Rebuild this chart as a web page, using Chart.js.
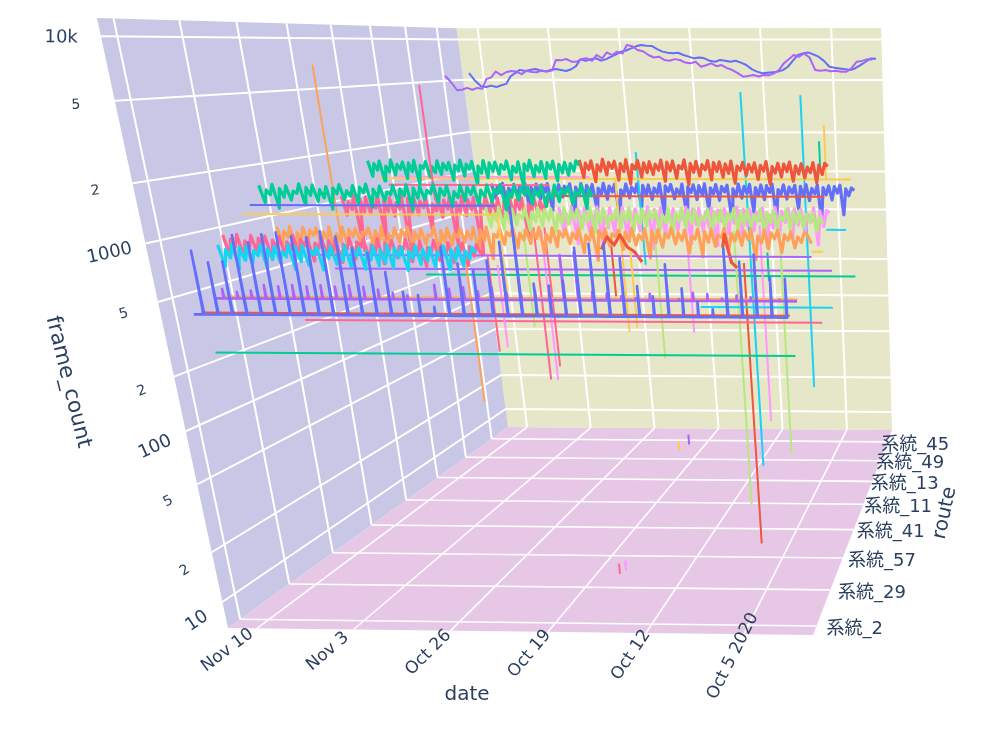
<!DOCTYPE html>
<html lang="en">
<head>
<meta charset="UTF-8">
<title>frame_count by route and date</title>
<script src="https://cdn.jsdelivr.net/npm/chart.js"></script>
<style>
body {margin: 0; background: #fff}
canvas {display: block}
</style>
</head>
<body>
<canvas id="myChart" width="1000" height="730"></canvas>
<script>
// axis ticks. days are counted from Sep 30, routes from the first tick
const dateTickDays = [40, 33, 26, 19, 12, 5];
const dateTickLabels = ['Nov 10', 'Nov 3', 'Oct 26', 'Oct 19', 'Oct 12', 'Oct 5 2020'];
const routeTickLabels = ['系統_2', '系統_29', '系統_57', '系統_41', '系統_11', '系統_13', '系統_49', '系統_45'];
const countTicks = [10, 20, 50, 100, 200, 500, 1000, 2000, 5000, 10000];
const countTickLabels = ['10', '2', '5', '100', '2', '5', '1000', '2', '5', '10k'];

// top pair, two values a day
const purpleTop = [5445, 4900, 4266, 4300, 4436, 4300, 4436, 4380, 5150, 5300, 5850, 5500, 5780, 5900, 5850, 5600, 5915, 5800, 5780, 5950, 5850, 5950, 7100, 7050, 7210, 6900, 6900, 7200, 7295, 7000, 7710, 7300, 8050, 7700, 8150, 7900, 9100, 8900, 8375, 8200, 7710, 7400, 7500, 7100, 7015, 7200, 7100, 6800, 6715, 6900, 6350, 6500, 6715, 6400, 6530, 6200, 6010, 5700, 5380, 5450, 5535, 5400, 5535, 5500, 5690, 6000, 6715, 7200, 7710, 7500, 7925, 7400, 6010, 5950, 6010, 5900, 5945, 5850, 5850, 6200, 6900, 7000, 7180, 7150];
const blueTop = [5690, 5000, 4560, 4500, 4610, 4500, 4640, 4750, 5380, 5700, 6010, 5900, 6010, 6100, 5945, 5850, 6010, 6100, 6010, 5900, 6080, 6400, 7180, 7000, 7180, 7300, 7015, 7200, 7500, 7800, 8150, 8300, 8610, 8900, 9100, 9000, 8950, 8500, 8150, 8000, 7925, 8000, 7710, 7500, 7295, 7400, 7295, 7000, 6900, 7100, 7015, 6900, 7015, 6800, 6530, 6100, 5850, 5700, 5750, 5800, 5850, 6000, 6350, 7000, 7710, 7900, 8050, 7800, 7500, 7000, 6350, 6250, 6180, 6100, 6010, 6200, 6530, 6900, 7295, 7250];

// dense bands, four values a day
const greenUpper = [1650, 1300, 1580, 1430, 1640, 1210, 1520, 1390, 1670, 1330, 1560, 1450, 1620, 1260, 1600, 1400, 1660, 1150, 1540, 1470, 1630, 1290, 1510, 1380, 1650, 1340, 1590, 1440, 1610, 1230, 1550, 1420, 1670, 1310, 1570, 1460, 1640, 1180, 1530, 1370, 1660, 1280, 1600, 1410, 1620, 1350, 1560, 1450, 1650, 1240, 1520, 1390, 1630, 1130, 1580, 1430, 1670, 1300, 1540, 1400, 1640, 1270, 1610, 1460, 1650, 1220, 1570, 1380, 1620, 1330, 1590, 1420, 1660, 1550];
const redUpper = [1680, 1290, 1600, 1450, 1660, 1210, 1560, 1420, 1700, 1340, 1620, 1480, 1650, 1240, 1590, 1410, 1690, 1170, 1570, 1460, 1670, 1300, 1610, 1390, 1640, 1350, 1580, 1440, 1680, 1220, 1630, 1430, 1660, 1280, 1550, 1470, 1690, 1160, 1600, 1400, 1650, 1320, 1570, 1450, 1670, 1250, 1620, 1420, 1640, 1300, 1590, 1380, 1660, 1190, 1540, 1440, 1630, 1340, 1580, 1410, 1620, 1260, 1560, 1430, 1650, 1170, 1530, 1390, 1610, 1310, 1590, 1420, 1640, 1230, 1550, 1370, 1600, 1290, 1520, 1400, 1630, 1200, 1570, 1360, 1610, 1540];
const greenLower = [1530, 1220, 1440, 1350, 1550, 1130, 1470, 1310, 1520, 1260, 1420, 1380, 1560, 1190, 1490, 1340, 1540, 1240, 1450, 1300, 1510, 1120, 1480, 1370, 1550, 1270, 1430, 1330, 1530, 1210, 1500, 1390, 1560, 1150, 1460, 1320, 1520, 1250, 1410, 1360, 1540, 1200, 1470, 1340, 1550, 1110, 1490, 1300, 1510, 1280, 1440, 1380, 1560, 1230, 1480, 1350, 1530, 1160, 1420, 1310, 1540, 1260, 1500, 1370, 1520, 1190, 1450, 1330, 1550, 1240, 1470, 1390, 1560, 1120, 1430, 1320, 1530, 1270, 1490, 1360, 1510, 1210, 1460, 1340, 1540, 1170, 1410, 1300, 1550, 1250, 1480, 1380, 1520, 1200, 1440, 1350, 1560, 1140, 1470, 1330];
const pinkFront = [905, 690, 860, 780, 912, 670, 840, 760, 900, 720, 870, 800, 895, 660, 850, 770, 890, 700, 830, 750, 905, 680, 860, 790, 880, 650, 820, 770, 890, 690, 845, 740, 870, 640, 810, 760, 875, 670, 835, 780, 860, 660, 800, 730, 870, 630, 825, 750, 850, 680, 790, 760, 865, 650, 815, 720, 845, 610, 780, 740, 855, 660, 800, 710, 830, 640, 770, 730, 825, 620, 790, 700, 810, 720, 760];
const pinkBack = [1060, 800, 980, 870, 1075, 470, 1020, 840, 1050, 820, 960, 890, 1080, 560, 1000, 850, 1040, 790, 970, 880, 1070, 440, 1030, 830, 1060, 810, 990, 900, 1045, 620, 950, 860, 1080, 780, 1010, 880, 1055, 500, 975, 840, 1065, 800, 1020, 870, 1050, 450, 960, 890, 1075, 820, 1000, 850, 1040, 700, 985, 830, 1060, 790, 1015, 880, 1045, 580, 955, 860, 1070, 810, 995, 840, 1050, 970];
const cyanBand = [815, 620, 770, 690, 820, 600, 790, 670, 805, 640, 760, 710, 815, 610, 780, 680, 800, 650, 750, 700, 820, 600, 795, 660, 810, 630, 765, 720, 795, 594, 775, 690, 805, 640, 745, 670, 815, 620, 785, 710, 790, 600, 755, 680, 810, 630, 770, 650, 820, 610, 790, 700, 800, 594, 760, 690, 815, 640, 780, 670, 795, 620, 750, 710, 810, 600, 775, 680, 805, 630, 765, 690, 800, 745];
const orangeBand = [855, 680, 810, 740, 860, 600, 790, 720, 850, 690, 820, 760, 845, 660, 800, 730, 855, 560, 780, 700, 860, 670, 830, 750, 840, 700, 795, 770, 850, 640, 815, 710, 860, 580, 785, 740, 845, 690, 825, 755, 855, 650, 800, 720, 835, 680, 775, 760, 860, 570, 820, 700, 850, 670, 790, 745, 840, 700, 810, 730, 855, 620, 830, 715, 860, 560, 780, 750, 845, 680, 805, 765, 850, 650, 795, 725, 835, 690, 820, 740, 860, 590, 785, 705, 855, 660, 815, 755, 840, 690, 800, 735, 850, 610, 775, 720, 860, 550, 825, 745, 845, 670, 790, 760, 830, 640, 810, 715, 855, 680, 780, 730, 850, 570, 820, 700, 840, 660, 795, 750, 860, 690, 805, 725, 835, 610, 770, 740, 850, 580, 815, 710, 845, 670, 785, 755, 855, 640, 800, 720, 830, 680, 825, 735, 850, 560, 775, 705, 840, 650, 810, 745, 835, 620, 790, 730, 820, 660, 765, 710, 810, 780, 700];
const lightGreenBand = [1075, 830, 1000, 900, 1080, 800, 1030, 880, 1060, 850, 980, 930, 1070, 790, 1020, 890, 1080, 840, 1050, 910, 1065, 780, 990, 870, 1075, 860, 1035, 925, 1055, 810, 1005, 895, 1080, 770, 1045, 880, 1070, 850, 975, 915, 1060, 820, 1025, 900, 1075, 790, 995, 870, 1065, 840, 1040, 930, 1050, 800, 985, 885, 1070, 760, 1015, 905, 1080, 830, 1050, 875, 1060, 850, 970, 920, 1070, 780, 1030, 890, 1055, 820, 1005, 910, 1075, 790, 1045, 865, 1060, 840, 990, 900, 1065, 770, 1020, 885, 1050, 810, 980, 915, 1070, 800, 1035, 875, 1045, 830, 1000, 895, 1020, 790, 960, 870];
const magentaBand = [1025, 700, 950, 820, 1033, 610, 1000, 790, 1010, 730, 930, 860, 1030, 590, 985, 770, 1015, 720, 960, 840, 1025, 650, 1010, 800, 1000, 740, 940, 850, 1033, 570, 995, 780, 1020, 700, 970, 830, 1005, 750, 920, 865, 1030, 620, 1005, 810, 1015, 730, 955, 780, 1025, 600, 990, 845, 1010, 710, 935, 825, 1033, 640, 1000, 795, 1000, 745, 965, 855, 1020, 580, 925, 770, 1030, 700, 980, 835, 1015, 660, 1010, 805, 1005, 720, 945, 840, 1025, 610, 985, 790, 990, 960];
const blueBand = [1095, 870, 1050, 950, 1100, 700, 1020, 930, 1085, 880, 1060, 970, 1104, 640, 1035, 920, 1090, 860, 1075, 960, 1100, 720, 1010, 940, 1080, 890, 1055, 980, 1095, 660, 1040, 910, 1100, 870, 1070, 950, 1085, 700, 1025, 935, 1104, 860, 1060, 965, 1090, 620, 1000, 925, 1095, 880, 1045, 955, 1100, 760, 1075, 915, 1080, 860, 1030, 945, 1104, 680, 1065, 975, 1090, 870, 1015, 930, 1095, 650, 1050, 960, 1085, 860, 1070, 920, 1100, 720, 1035, 940, 1090, 850, 1055, 970, 1080, 620, 1020, 910, 1100, 880, 1060, 950, 1095, 700, 1040, 925, 1085, 860, 1075, 965, 1100, 640, 1010, 935, 1090, 870, 1050, 955, 1080, 740, 1065, 915, 1095, 850, 1030, 945, 1090, 613, 1045, 930, 1075, 860, 1060, 960, 1085, 680, 1025, 920, 1040, 1000];
const redPatchA = [640, 760, 680, 780, 660, 620, 540];
const redPatchB = [660, 790, 640, 540, 520, 500];

// the two daily spike series: one peak a day on top of a flat base
const blueSpikeBase = 382;
const blueSpikes = [841, 731, 740, 1018, 934, 1030, 1055, 1005, 993, 1070, 1005, 879, 826, 655, 513, 494, 427, 889, 731, 671, 758, 950, 1435, 573, 559, 594, 889, 934, 934, 787, 559, 494, 731, 545, 465, 422, 889, 758, 826, 631, 617];
const purpleSpikeBase = 431;
const purpleSpikes = [487, 470, 478, 513, 505, 513, 505, 513, 505, 513, 505, 487, 470, 452, 431, 520, 495, 505, 480, 505, 470, 462, 487, 478, 760, 790, 480, 470, 455, 445, 470, 431, 440, 478, 470, 445, 462, 452, 431, 440];

// nearly constant routes
const flatColors = ['#FFA15A', '#EF553B', '#FF6692', '#00CC96', '#19D3F3', '#AB63FA', '#AB63FA', '#00CC96', '#636EFA', '#FECB52', '#FECB52', '#FF6692', '#EF553B', '#FF97FF', '#19D3F3', '#FECB52'];
const flatRoutes = [0.66, 0.36, 1.35, 0.32, 2.14, 1.91, 2.38, 4.12, 1.59, 1.43, 4.52, 4.52, 4.12, 4.52, 5.31, 2.38];
const flatFirstDay = [41.5, 41.9, 38.5, 41.3, 10.4, 39.2, 39.3, 37.6, 42, 42, 41.8, 41, 26.3, 40.5, 3.8, 1.9];
const flatLastDay = [1.1, 1.3, 0.2, 1, 0.2, 1.4, 0.4, 0.2, 23.9, 23.5, 0.65, 26.9, 2.6, 23.3, 2, 1];
const flatCounts = [440, 384, 276, 233, 282, 596, 451, 293, 1219, 1109, 1239, 1119, 1000, 1270, 500, 589];

// single days where a route jumps far away from its level
const jumpColors = ['#FFA15A', '#FFA15A', '#FF6692', '#FF6692', '#FF97FF', '#FF6692', '#FF6692', '#FF97FF', '#19D3F3', '#19D3F3', '#19D3F3', '#EF553B', '#EF553B', '#B6E880', '#B6E880', '#B6E880', '#B6E880', '#FF97FF', '#FF97FF', '#FECB52', '#FECB52', '#FECB52', '#FECB52', '#00CC96', '#00CC96', '#00CC96', '#FF6692', '#FF97FF', '#FECB52', '#AB63FA'];
const jumpRoutes = [2.03, 2.03, 3.56, 1, 1.12, 3.33, 3.33, 3.09, 5.31, 5.31, 4.52, 2.38, 2.38, 2.3, 2.3, 2.3, 2.3, 2.73, 2.73, 1.43, 4.52, 1.43, 4.52, 4.36, 4.12, 1.83, 1.39, 1.39, 6.37, 6.73];
const jumpDays = [37.2, 27.9, 34.2, 23.3, 23, 25.7, 24.8, 24.5, 10.9, 5.6, 19.1, 7.2, 17.4, 13.8, 7.7, 4.2, 23.9, 12.1, 6.3, 23.4, 21.1, 14, 2.8, 3.1, 7.7, 23.5, 17.1, 16.6, 21, 20.6];
const jumpFrom = [7100, 760, 5250, 720, 611, 700, 700, 700, 4450, 4250, 1875, 500, 640, 800, 800, 800, 800, 800, 800, 1109, 1239, 700, 2813, 2239, 424, 1420, 8.2, 8.5, 8.5, 8.5];
const jumpTo = [760, 72, 1000, 200, 205, 68, 84, 73, 8, 34, 321, 7.2, 309, 128, 14, 31, 201, 168, 44, 351, 107, 250, 1239, 1450, 272, 365, 7, 7.5, 7, 7];

// camera of the 3d scene, fitted on the corners of the box
const cam = [
  [575.39, 547.14, -145.16, 228],
  [-0.504, 23.55, -612.63, 628],
  [-0.0118, 0.52587, -0.146, 1]
];
const dayFar = 42.1, daySpan = 42;
const routeAt0 = 0.029, routeStep = 0.1264;
const countAt10 = 0.0496, countDecade = 0.3083;

function projectBox(u, v, t) {
  const w = cam[2][0] * u + cam[2][1] * v + cam[2][2] * t + cam[2][3];
  return {
    x: (cam[0][0] * u + cam[0][1] * v + cam[0][2] * t + cam[0][3]) / w,
    y: (cam[1][0] * u + cam[1][1] * v + cam[1][2] * t + cam[1][3]) / w
  };
}
const dayU = d => (dayFar - d) / daySpan;
const routeV = r => routeAt0 + routeStep * r;
const countT = c => countAt10 + countDecade * (Math.log10(c) - 1);
const project = (day, route, count) => projectBox(dayU(day), routeV(route), countT(count));

const datasets = [];
function addLine(data, color, width, order, fill) {
  datasets.push({
    data: data,
    showLine: true,
    borderColor: color,
    borderWidth: width,
    backgroundColor: fill || color,
    fill: fill ? 'shape' : false,
    pointRadius: 0,
    tension: 0,
    borderJoinStyle: 'round',
    clip: false,
    order: order
  });
}
function addSeries(values, color, route, firstDay, step, width) {
  const pts = values.map((c, i) => project(firstDay - i * step, route, c));
  addLine(pts, color, width, route);
}
function addSpikes(tops, base, color, route, firstDay, lastDay, firstSpike) {
  const pts = [project(firstDay, route, base)];
  tops.forEach((c, i) => {
    const d = firstSpike - i;
    pts.push(project(d + 0.03, route, base), project(d, route, c), project(d - 0.03, route, base));
  });
  pts.push(project(lastDay, route, base));
  addLine(pts, color, 2.6, route);
}

// walls
const wallOrder = 100, gridOrder = 99;
const corner = (u, v, t) => projectBox(u, v, t);
addLine([corner(0, 0, 0), corner(0, 0, 1), corner(0, 1, 1), corner(0, 1, 0), corner(0, 0, 0)], 'rgb(200,200,230)', 0, wallOrder, 'rgb(200,200,230)');
addLine([corner(0, 1, 0), corner(0, 1, 1), corner(1, 1, 1), corner(1, 1, 0), corner(0, 1, 0)], 'rgb(230,230,200)', 0, wallOrder, 'rgb(230,230,200)');
addLine([corner(0, 0, 0), corner(1, 0, 0), corner(1, 1, 0), corner(0, 1, 0), corner(0, 0, 0)], 'rgb(230,200,230)', 0, wallOrder, 'rgb(230,200,230)');

// grid, a bit finer on the floor
countTicks.forEach(c => {
  addLine([corner(0, 0, countT(c)), corner(0, 1, countT(c)), corner(1, 1, countT(c))], '#fff', 2, gridOrder);
});
routeTickLabels.forEach((name, r) => {
  addLine([corner(0, routeV(r), 1), corner(0, routeV(r), 0)], '#fff', 2, gridOrder);
  addLine([corner(0, routeV(r), 0), corner(1, routeV(r), 0)], '#fff', 1.6, gridOrder);
});
dateTickDays.forEach(d => {
  addLine([corner(dayU(d), 0, 0), corner(dayU(d), 1, 0)], '#fff', 1.6, gridOrder);
  addLine([corner(dayU(d), 1, 0), corner(dayU(d), 1, 1)], '#fff', 2, gridOrder);
});

// series
addSeries(purpleTop, '#AB63FA', 7.05, 42.06, 0.5, 2);
addSeries(blueTop, '#636EFA', 7.06, 39.7, 0.5, 2);
addSeries(greenUpper, '#00CC96', 4.36, 42, 0.25, 3.2);
addSeries(redUpper, '#EF553B', 4.36, 23.7, 0.25, 3.2);
addSeries(greenLower, '#00CC96', 1.83, 42, 0.25, 3.2);
addSeries(pinkFront, '#FF6692', 1, 42, 0.25, 3.2);
addSeries(pinkBack, '#FF6692', 3.56, 42, 0.25, 3.2);
addSeries(cyanBand, '#19D3F3', 0.88, 42, 0.25, 3.2);
addSeries(orangeBand, '#FFA15A', 2.03, 42, 0.25, 3.2);
addSeries(lightGreenBand, '#B6E880', 2.3, 26.6, 0.25, 3.2);
addSeries(magentaBand, '#FF97FF', 2.73, 22, 0.25, 3.2);
addSeries(blueBand, '#636EFA', 4.9, 33, 0.25, 3.2);
addSeries(redPatchA, '#EF553B', 2.02, 17.4, 0.5, 3.2);
addSeries(redPatchB, '#EF553B', 2.02, 8.2, 0.2, 3.2);
addSpikes(blueSpikes, blueSpikeBase, '#636EFA', 0.28, 42.1, 1.4, 41.4);
addSpikes(purpleSpikes, purpleSpikeBase, '#AB63FA', 0.64, 42, 1.1, 41.3);

flatColors.forEach((color, i) => {
  addLine([project(flatFirstDay[i], flatRoutes[i], flatCounts[i]), project(flatLastDay[i], flatRoutes[i], flatCounts[i])], color, 2, flatRoutes[i]);
});
jumpColors.forEach((color, i) => {
  addLine([project(jumpDays[i], jumpRoutes[i], jumpFrom[i]), project(jumpDays[i], jumpRoutes[i], jumpTo[i])], color, 2, jumpRoutes[i]);
});

const ink = '#2a3f5f';
const fontName = '"DejaVu Sans", "Noto Sans CJK JP", sans-serif';

function putText(ctx, text, x, y, size, angle, align) {
  ctx.save();
  ctx.translate(x, y);
  ctx.rotate(angle);
  ctx.font = size + 'px ' + fontName;
  ctx.fillStyle = ink;
  ctx.textAlign = align;
  ctx.textBaseline = 'middle';
  ctx.fillText(text, 0, 0);
  ctx.restore();
}

const axisText = {
  id: 'axisText',
  afterDraw(chart) {
    const ctx = chart.ctx, sx = chart.scales.x, sy = chart.scales.y;
    const at = p => ({x: sx.getPixelForValue(p.x), y: sy.getPixelForValue(p.y)});

    dateTickDays.forEach((d, i) => {
      const a = at(corner(dayU(d), 0, 0)), b = at(corner(dayU(d), 0.25, 0));
      const angle = Math.atan2(b.y - a.y, b.x - a.x);
      const off = 22 / Math.abs(Math.sin(angle));
      putText(ctx, dateTickLabels[i], a.x - off * Math.cos(angle), a.y - off * Math.sin(angle), 17, angle, 'center');
    });
    routeTickLabels.forEach((name, r) => {
      const p = at(corner(1, routeV(r), 0));
      putText(ctx, name, p.x + 10 - 2.3 * r, p.y + 3, 18, 0, 'left');
    });
    countTicks.forEach((c, i) => {
      const a = at(corner(0, 0, countT(c))), b = at(corner(0, 0.25, countT(c)));
      const angle = Math.atan2(b.y - a.y, b.x - a.x);
      const major = countTickLabels[i].length > 1;
      const off = 30 + 10 * countT(c);
      putText(ctx, countTickLabels[i], a.x - off * Math.cos(angle), a.y - off * Math.sin(angle) + 2, major ? 18 : 14, angle, 'center');
    });
    putText(ctx, 'frame_count', 68, 382, 21.5, 1.33, 'center');
    putText(ctx, 'date', 467, 695, 20, 0, 'center');
    putText(ctx, 'route', 945, 513, 20, -1.36, 'center');
  }
};

new Chart(document.getElementById('myChart'), {
  type: 'scatter',
  data: {datasets: datasets},
  options: {
    responsive: false,
    animation: false,
    events: [],
    layout: {padding: 0},
    scales: {
      x: {type: 'linear', min: 0, max: 1000, display: false},
      y: {type: 'linear', min: 0, max: 730, reverse: true, display: false}
    },
    plugins: {legend: {display: false}, tooltip: {enabled: false}}
  },
  plugins: [axisText]
});
</script>
</body>
</html>
